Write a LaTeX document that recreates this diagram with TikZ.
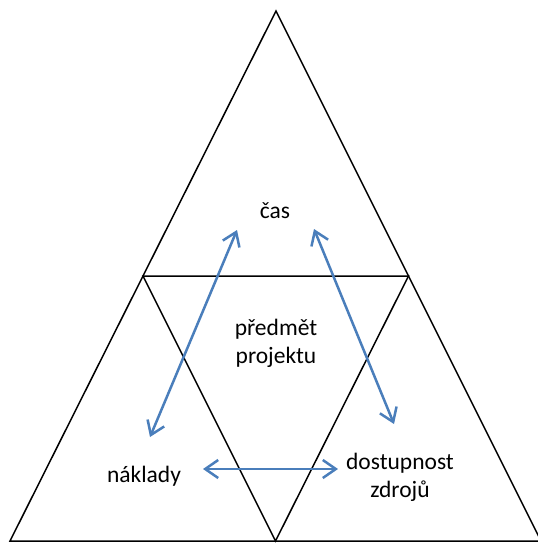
\documentclass[tikz,border=0pt]{standalone}
\usepackage{fontspec}
\setmainfont{Carlito}
\usetikzlibrary{arrows.meta,calc}
\definecolor{arrblue}{HTML}{4A7EBB}

\begin{document}
\begin{tikzpicture}[x=1pt,y=-1pt,%
  edge/.style={draw=black,line width=1.5pt,line join=miter},
  link/.style={draw=arrblue,line width=2.5pt,
    {Straight Barb[length=13pt,width=18pt]}-{Straight Barb[length=13pt,width=18pt]}},
  lbl/.style={font=\fontsize{23.5}{28}\selectfont,inner sep=0pt,align=center}]
  \useasboundingbox (0,0) rectangle (537,545);
  % outer triangle and its midpoints
  \coordinate (top) at (276,11);
  \coordinate (bl) at (10,541);
  \coordinate (br) at (541,541);
  \coordinate (ml) at ($(top)!.5!(bl)$);
  \coordinate (mr) at ($(top)!.5!(br)$);
  \coordinate (mb) at ($(bl)!.5!(br)$);
  \draw[edge] (top) -- (bl) -- (br) -- cycle;
  \draw[edge] (ml) -- (mr) -- (mb) -- cycle;
  % labels
  \node[lbl,anchor=base] (cas) at (275,218) {čas};
  \node[lbl] (predmet) at (276,343) {předmět\\projektu};
  \node[lbl,anchor=base] (naklady) at (144,482) {náklady};
  \node[lbl] (zdroje) at (400,477) {dostupnost\\zdrojů};
  % arrow ends
  \coordinate (a1) at (150,437); \coordinate (a2) at (237,230);
  \coordinate (b1) at (314,229); \coordinate (b2) at (394,424);
  \coordinate (c1) at (203,469); \coordinate (c2) at (338,469);
  \draw[link] (a1) -- (a2);
  \draw[link] (b1) -- (b2);
  \draw[link] (c1) -- (c2);
\end{tikzpicture}
\end{document}
